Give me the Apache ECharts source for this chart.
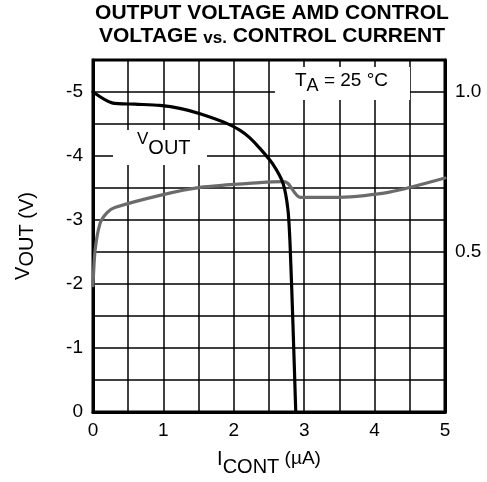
<!DOCTYPE html>
<html>
<head>
<meta charset="utf-8">
<script src="https://cdn.jsdelivr.net/npm/echarts@6/dist/echarts.min.js"></script>
<style>
html,body{margin:0;padding:0;background:#fff;}
#chart{width:487px;height:482px;}
</style>
</head>
<body>
<div id="chart"></div>
<script>
// Output voltage (left axis, V) vs control current (µA)
const voutCurrent = [0, 0.27, 0.6, 0.95, 1.25, 1.52, 1.9, 2.09, 2.22, 2.37, 2.55, 2.70, 2.77, 2.80, 2.84, 2.88];
const voutValues  = [-5.0, -4.83, -4.81, -4.79, -4.74, -4.66, -4.51, -4.40, -4.29, -4.12, -3.88, -3.57, -3.15, -2.6, -1.38, 0];
// Control voltage (right axis) vs control current (µA)
const vcontCurrent = [0, 0.03, 0.1, 0.2, 0.31, 0.95, 1.52, 2.37, 2.70, 2.77, 2.94, 3.5, 4.21, 5.0];
const vcontValues  = [0.395, 0.505, 0.589, 0.623, 0.639, 0.677, 0.702, 0.717, 0.720, 0.714, 0.671, 0.671, 0.687, 0.731];
// Tick labels
const xTickLabels = ['0', '1', '2', '3', '4', '5'];
const leftTickLabels = ['-5', '-4', '-3', '-2', '-1', '0'];
const rightTickLabels = ['0.5', '1.0'];

const FONT = 'Liberation Sans, Arial, sans-serif';
const chart = echarts.init(document.getElementById('chart'), null, {renderer: 'canvas'});

function pairs(xs, ys) { return xs.map((x, i) => [x, ys[i]]); }
function near(v, s) { return Math.abs(v - parseFloat(s)) < 1e-6; }

const option = {
  animation: false,
  backgroundColor: '#fff',
  grid: {
    left: 93, right: 42, top: 60, bottom: 70,
    show: true, borderColor: '#000', borderWidth: 3, backgroundColor: 'transparent'
  },
  xAxis: {
    type: 'value', min: 0, max: 5, interval: 0.5,
    axisLine: {show: true, lineStyle: {color: '#000', width: 3}},
    axisTick: {show: false},
    splitLine: {show: true, lineStyle: {color: '#000', width: 1.5}},
    axisLabel: {
      color: '#000', fontSize: 19, fontFamily: FONT, margin: 9,
      formatter: v => { const s = xTickLabels.find(t => near(v, t)); return s === undefined ? '' : s; }
    },
    name: '{n|I}{s|CONT}{m| (µA)}',
    nameLocation: 'middle', nameGap: 37,
    nameTextStyle: {
      color: '#000', fontFamily: FONT,
      rich: {
        n: {fontSize: 20, lineHeight: 22, verticalAlign: 'top', color: '#000', fontFamily: FONT},
        m: {fontSize: 19, lineHeight: 22, verticalAlign: 'top', color: '#000', fontFamily: FONT},
        s: {fontSize: 20, lineHeight: 36, color: '#000', fontFamily: FONT}
      }
    }
  },
  yAxis: [
    {
      type: 'value', min: -5.5, max: 0, interval: 0.5, inverse: true,
      position: 'left',
      axisLine: {show: true, lineStyle: {color: '#000', width: 3}},
      axisTick: {show: false},
      splitLine: {show: true, lineStyle: {color: '#000', width: 1.5}},
      axisLabel: {
        color: '#000', fontSize: 19, fontFamily: FONT, margin: 10,
        formatter: v => { const s = leftTickLabels.find(t => near(v, t)); return s === undefined ? '' : s; }
      },
      name: '{v|V}{n|OUT (V)}',
      nameLocation: 'middle', nameGap: 52,
      nameTextStyle: {
        color: '#000', fontFamily: FONT,
        rich: {
          v: {fontSize: 20, lineHeight: 22, verticalAlign: 'top', color: '#000', fontFamily: FONT},
          n: {fontSize: 20, lineHeight: 28, color: '#000', fontFamily: FONT}
        }
      }
    },
    {
      type: 'value', min: 0, max: 1.1, interval: 0.5,
      position: 'right',
      axisLine: {show: true, lineStyle: {color: '#000', width: 3}},
      axisTick: {show: false},
      splitLine: {show: false},
      axisLabel: {
        color: '#000', fontSize: 19, fontFamily: FONT, margin: 10,
        formatter: v => { const s = rightTickLabels.find(t => near(v, t)); return s === undefined ? '' : s; }
      }
    }
  ],
  series: [
    {
      name: 'VOUT', type: 'line', yAxisIndex: 0,
      data: pairs(voutCurrent, voutValues),
      showSymbol: false, smooth: 0.25,
      lineStyle: {color: '#000', width: 3.2, cap: 'round', join: 'round'}, z: 5
    },
    {
      name: 'VCONT', type: 'line', yAxisIndex: 1,
      data: pairs(vcontCurrent, vcontValues),
      showSymbol: false, smooth: 0.25,
      lineStyle: {color: '#6b6b6b', width: 3.2, cap: 'round', join: 'round'}, z: 4
    }
  ],
  graphic: [
    {
      type: 'text', x: 272, y: 1, z: 20,
      style: {
        text: '{b|OUTPUT VOLTAGE AMD CONTROL}\n{b|VOLTAGE }{s|vs.}{b| CONTROL CURRENT}',
        align: 'center', verticalAlign: 'top', fill: '#000',
        rich: {
          b: {fontSize: 21, fontWeight: 'bold', lineHeight: 23, verticalAlign: 'bottom', fontFamily: FONT, fill: '#000'},
          s: {fontSize: 17, fontWeight: 'bold', lineHeight: 21, verticalAlign: 'bottom', fontFamily: FONT, fill: '#000'}
        }
      }
    },
    {type: 'rect', z: 10, shape: {x: 113, y: 130, width: 94, height: 35}, style: {fill: '#fff'}},
    {
      type: 'text', x: 137, y: 131, z: 20,
      style: {
        text: '{v|V}{o|OUT}', fill: '#000', verticalAlign: 'top',
        rich: {
          v: {fontSize: 17, lineHeight: 20, verticalAlign: 'top', fontFamily: FONT, fill: '#000'},
          o: {fontSize: 20, lineHeight: 35, fontFamily: FONT, fill: '#000'}
        }
      }
    },
    {type: 'rect', z: 10, shape: {x: 275, y: 67, width: 135, height: 33}, style: {fill: '#fff'}},
    {
      type: 'text', x: 295, y: 71.5, z: 20,
      style: {
        text: '{t|T}{a|A}{t| = 25 °C}', fill: '#000', verticalAlign: 'top',
        rich: {
          t: {fontSize: 19, lineHeight: 20, verticalAlign: 'top', fontFamily: FONT, fill: '#000'},
          a: {fontSize: 18, lineHeight: 30, fontFamily: FONT, fill: '#000'}
        }
      }
    }
  ]
};
chart.setOption(option);
</script>
</body>
</html>
